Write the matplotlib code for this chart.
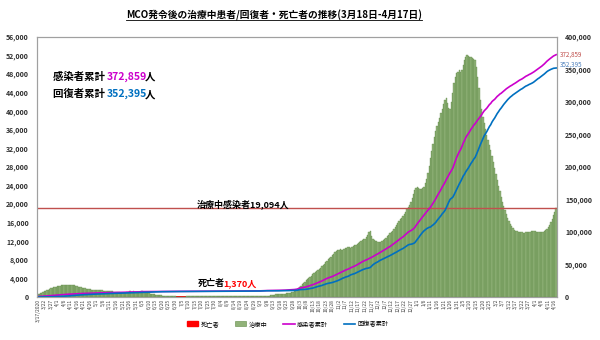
import numpy as np
import pandas as pd
import matplotlib
matplotlib.use('Agg')
import matplotlib.pyplot as plt
from matplotlib.patches import Patch
from matplotlib.lines import Line2D
from matplotlib.ticker import FuncFormatter, MultipleLocator

plt.rcParams['font.family'] = ['Noto Sans CJK JP', 'DejaVu Sans']

START = '2020-03-17'

# 治療中 (active cases), daily from 3/17/2020
active_cases = [
    630, 740, 840, 960, 1100, 1200, 1380, 1450, 1590, 1780, 1840, 1950, 2050, 2130, 2200,
    # Apr
    2290, 2370, 2470, 2510, 2560, 2580, 2590, 2600, 2560, 2540,
    2570, 2560, 2520, 2480, 2400, 2300, 2200, 2150, 2100, 2000,
    1900, 1830, 1800, 1780, 1720, 1650, 1600, 1540, 1520, 1480,
    # May
    1500, 1530, 1560, 1500, 1420, 1380, 1350, 1330, 1310, 1300,
    1280, 1230, 1200, 1150, 1100, 1050, 1000, 970, 950, 920,
    920, 950, 960, 980, 1100, 1250, 1200, 1150, 1200, 1150, 1120,
    # Jun
    1080, 1000, 1050, 1250, 1200, 1150, 1080, 1000, 900, 800,
    700, 650, 600, 540, 500, 450, 400, 380, 340, 300,
    280, 250, 230, 200, 180, 160, 150, 140, 120, 110,
    # Jul
    100, 95, 90, 90, 85, 85, 90, 100, 110, 120,
    130, 140, 150, 160, 170, 170, 165, 160, 160, 170,
    175, 180, 190, 185, 180, 175, 170, 175, 180, 190, 195,
    # Aug
    200, 210, 220, 230, 235, 240, 250, 260, 270, 280,
    300, 310, 320, 300, 290, 280, 270, 260, 250, 240,
    230, 220, 210, 200, 190, 180, 170, 165, 160, 160, 155,
    # Sep
    150, 150, 145, 150, 155, 160, 170, 200, 250, 300,
    360, 420, 480, 520, 560, 600, 620, 640, 660, 680,
    700, 720, 760, 800, 850, 900, 1000, 1100, 1250, 1400,
    # Oct
    1600, 1850, 2100, 2400, 2700, 3000, 3300, 3600, 3900, 4100,
    4300, 4600, 4900, 5100, 5300, 5500, 5800, 6000, 6300, 6600,
    6900, 7200, 7500, 7800, 8100, 8400, 8700, 9000, 9300, 9600, 9900,
    # Nov
    10100, 10200, 10300, 10200, 10100, 10300, 10500, 10600, 10800, 10700,
    10600, 10800, 11000, 11200, 11300, 11400, 11600, 11800, 12000, 12200,
    12400, 12600, 12900, 13400, 14000, 14300, 13200, 12400, 12200, 12100,
    # Dec
    12000, 11900, 11800, 11900, 12100, 12300, 12500, 12800, 13100, 13400,
    13700, 14000, 14300, 14700, 15100, 15500, 15900, 16300, 16700, 17100,
    17500, 17900, 18400, 18900, 19300, 19800, 20500, 21300, 22100, 23000, 23500,
    # Jan 2021
    23700, 23400, 23200, 23300, 23500, 23700, 24500, 25500, 26800, 28200,
    30000, 31500, 33000, 34500, 35800, 36800, 37600, 38600, 39600, 40600,
    41600, 42500, 42800, 41800, 40800, 40500, 42000, 44000, 46000, 47500, 48300,
    # Feb
    48500, 48800, 48500, 49000, 50000, 51000, 51800, 52100, 52000, 51800,
    51600, 51500, 51300, 51000, 49500, 47500, 45000, 42500, 40500, 38800,
    37400, 36200, 35000, 33800, 32700, 31700, 30400, 29000,
    # Mar
    27700, 26400, 25200, 24000, 22800, 21600, 20500, 19500, 18700, 17800,
    17000, 16300, 15700, 15200, 14800, 14500, 14300, 14200, 14100, 14000,
    13900, 13900, 13800, 13800, 13900, 14000, 14000, 14100, 14200, 14300, 14300,
    # Apr
    14200, 14100, 14000, 14000, 13900, 14000, 14100, 14200, 14400, 14700,
    15100, 15600, 16200, 16900, 17600, 18300, 19094,
]

# 感染者累計 (cumulative confirmed)
confirmed_total = [
    673, 790, 900, 1030, 1183, 1306, 1518, 1624, 1796, 2031, 2161, 2320, 2470, 2626, 2766,
    # Apr
    2908, 3116, 3333, 3483, 3662, 3793, 3963, 4119, 4228, 4346,
    4530, 4683, 4817, 4987, 5072, 5182, 5251, 5305, 5389, 5425,
    5482, 5532, 5603, 5691, 5742, 5780, 5820, 5851, 5945, 6002,
    # May
    6071, 6176, 6298, 6353, 6383, 6428, 6467, 6535, 6589, 6656,
    6726, 6742, 6779, 6819, 6855, 6872, 6894, 6941, 6978, 7009,
    7059, 7137, 7185, 7245, 7417, 7604, 7619, 7629, 7732, 7762, 7819,
    # Jun
    7857, 7877, 7970, 8247, 8266, 8303, 8322, 8329, 8336, 8338,
    8369, 8402, 8445, 8453, 8494, 8505, 8515, 8529, 8535, 8556,
    8572, 8587, 8590, 8596, 8600, 8606, 8616, 8634, 8637, 8639,
    # Jul
    8640, 8643, 8648, 8658, 8663, 8668, 8674, 8677, 8683, 8696,
    8704, 8718, 8725, 8729, 8734, 8737, 8755, 8764, 8766, 8779,
    8800, 8815, 8831, 8840, 8858, 8872, 8897, 8904, 8943, 8964, 8976,
    # Aug
    8985, 9002, 9023, 9038, 9063, 9083, 9094, 9104, 9114, 9129,
    9149, 9175, 9200, 9212, 9219, 9235, 9240, 9250, 9257, 9267,
    9274, 9285, 9291, 9296, 9306, 9317, 9334, 9340, 9354, 9360, 9374,
    # Sep
    9391, 9397, 9459, 9559, 9583, 9628, 9810, 9868, 9946, 9969,
    10031, 10052, 10090, 10147, 10167, 10219, 10276, 10320, 10358, 10413,
    10505, 10576, 10687, 10769, 10919, 11034, 11135, 11224, 11484, 11771,
    # Oct
    12088, 12813, 13504, 13993, 14368, 14722, 15096, 15657, 16220, 16880,
    17540, 18129, 18758, 19627, 20498, 21363, 22225, 22957, 23804, 24514,
    25742, 26565, 27805, 28640, 29441, 30090, 30889, 31548, 32505, 33505, 34393,
    # Nov
    35425, 36434, 37348, 38340, 39415, 40209, 41399, 42050, 42872, 43791,
    44966, 45797, 46648, 47515, 48520, 49634, 50856, 51891, 53207, 54311,
    55386, 56260, 57245, 57998, 59157, 60112, 61030, 62232, 63573, 64758,
    # Dec
    65697, 66618, 68020, 69095, 70265, 71470, 72694, 73941, 75314, 76417,
    77624, 79095, 80596, 82096, 83475, 85015, 86618, 88264, 89831, 91195,
    92555, 94385, 96180, 98196, 99917, 101124, 102093, 103366, 104985, 106995, 110167,
    # Jan 2021
    113010, 115451, 118160, 120818, 123629, 125941, 128465, 131108, 133559, 135992,
    138224, 141533, 144518, 147855, 151066, 155095, 158434, 161740, 165371, 169379,
    172549, 176180, 180455, 184148, 187786, 191495, 194632, 198208, 203933, 209661, 214959,
    # Feb
    219173, 223581, 226912, 231483, 236951, 240770, 245552, 248855, 251604, 254988,
    258306, 261015, 264269, 266445, 269369, 272230, 274875, 277565, 280272, 283569,
    286438, 288608, 290543, 293393, 296022, 297881, 300752, 302580,
    # Mar
    304135, 306548, 308750, 310363, 312296, 313538, 315309, 317110, 318816, 320485,
    321925, 323306, 324641, 325669, 327053, 328193, 329467, 330926, 332317, 333645,
    334630, 335667, 337112, 338475, 339836, 340743, 341944, 342945, 343996, 345150, 346465,
    # Apr
    347972, 349610, 351047, 352314, 353724, 355223, 356952, 358751, 360856, 362891,
    364648, 366248, 367854, 369439, 370898, 371861, 372859,
]

# 死亡者 (cumulative deaths)
death_total = [
    2, 2, 3, 3, 4, 10, 14, 16, 21, 23, 26, 27, 35, 37, 43,
    # Apr
    45, 50, 53, 57, 61, 62, 63, 65, 67, 70,
    73, 76, 77, 82, 83, 84, 86, 88, 89, 89,
    93, 95, 96, 98, 99, 100, 100, 100, 102, 103,
    # May
    103, 103, 104, 105, 105, 106, 106, 107, 108, 109,
    109, 109, 111, 112, 112, 113, 113, 114, 114, 114,
    114, 115, 115, 115, 115, 115, 115, 115, 115, 115, 115,
    # Jun
    115, 115, 115, 116, 117, 117, 118, 118, 119, 119,
    120, 121, 121, 121, 121, 121, 121, 121, 121, 121,
    121, 121, 121, 121, 121, 121, 121, 121, 121, 121,
    # Jul
    121, 121, 121, 121, 121, 122, 122, 122, 122, 122,
    122, 122, 122, 122, 122, 123, 123, 123, 123, 123,
    123, 123, 123, 123, 123, 123, 123, 123, 123, 123, 123,
    # Aug
    124, 124, 124, 124, 124, 124, 124, 124, 124, 124,
    125, 125, 125, 125, 125, 125, 125, 125, 125, 125,
    125, 125, 125, 125, 125, 126, 126, 126, 127, 127, 127,
    # Sep
    128, 128, 128, 128, 128, 128, 128, 128, 128, 128,
    128, 128, 128, 128, 128, 130, 130, 130, 130, 130,
    133, 133, 133, 133, 133, 134, 135, 136, 136, 137,
    # Oct
    137, 137, 141, 146, 150, 155, 157, 159, 163, 165,
    167, 170, 176, 178, 182, 187, 190, 193, 199, 204,
    214, 221, 229, 237, 238, 246, 249, 251, 258, 262, 265,
    # Nov
    268, 272, 274, 277, 280, 283, 284, 288, 291, 294,
    297, 300, 302, 305, 309, 311, 313, 316, 319, 322,
    325, 326, 330, 333, 336, 339, 341, 344, 348, 352,
    # Dec
    355, 357, 361, 363, 367, 369, 372, 374, 378, 381,
    385, 388, 391, 394, 396, 400, 403, 406, 410, 413,
    416, 419, 423, 427, 431, 436, 442, 449, 455, 462, 471,
    # Jan 2021
    477, 483, 490, 498, 507, 514, 522, 530, 537, 543,
    551, 555, 561, 569, 578, 586, 594, 605, 618, 626,
    636, 646, 659, 668, 681, 692, 705, 718, 731, 746, 761,
    # Feb
    776, 793, 805, 818, 832, 846, 862, 878, 890, 903,
    916, 928, 940, 952, 962, 975, 988, 1000, 1011, 1025,
    1038, 1051, 1065, 1076, 1088, 1101, 1115, 1130,
    # Mar
    1135, 1141, 1147, 1153, 1157, 1163, 1170, 1175, 1180, 1185,
    1191, 1196, 1200, 1205, 1210, 1215, 1220, 1224, 1228, 1232,
    1236, 1240, 1243, 1246, 1249, 1252, 1255, 1258, 1260, 1263, 1266,
    # Apr
    1270, 1275, 1280, 1285, 1290, 1296, 1302, 1308, 1314, 1321,
    1327, 1333, 1340, 1347, 1354, 1362, 1370,
]

assert len(active_cases) == len(confirmed_total) == len(death_total) == 397

active = np.array(active_cases)
confirmed = np.array(confirmed_total)
deaths = np.array(death_total)
recovered = confirmed - active - deaths   # 回復者累計

dates = pd.date_range(START, periods=len(active), freq='D')
x = np.arange(len(dates))

GREEN = '#91b279'
GREEN_EDGE = '#5f8a46'
RED = '#ff0000'
MAGENTA = '#cc00cc'
BLUE = '#0070c0'
FRAME = '#a0a0a0'

fig = plt.figure(figsize=(6, 3.4), dpi=100)
ax = fig.add_axes([0.062, 0.1265, 0.866, 0.7645])
ax2 = ax.twinx()

ax.bar(x, deaths, width=1.0, color=RED, zorder=2)
ax.bar(x, active, width=1.0, color=GREEN, edgecolor=GREEN_EDGE, linewidth=0.25, zorder=3)
ax.axhline(active[-1], color='#c0504d', lw=1.0, zorder=4)

ax2.plot(x, confirmed, color=MAGENTA, lw=1.2)
ax2.plot(x, recovered, color=BLUE, lw=1.2)

ax.set_xlim(-0.5, len(x) - 0.5)
ax.set_ylim(0, 56000)
ax2.set_ylim(0, 400000)

comma = FuncFormatter(lambda v, p: f'{v:,.0f}')
ax.yaxis.set_major_locator(MultipleLocator(4000))
ax.yaxis.set_major_formatter(comma)
ax2.yaxis.set_major_locator(MultipleLocator(50000))
ax2.yaxis.set_major_formatter(comma)

tick_idx = x[::5]
tick_lab = [f'{d.month}/{d.day}' for d in dates[::5]]
tick_lab[0] = '3/17/2020'
ax.set_xticks(tick_idx)
ax.set_xticklabels(tick_lab, rotation=90)

ax.tick_params(axis='x', labelsize=3.5, length=0, pad=1.5, colors='#404040')
ax.tick_params(axis='y', labelsize=5, length=0, pad=6, colors='#303030')
ax2.tick_params(axis='y', labelsize=5, length=0, pad=6, colors='#303030')
for lab in ax.get_yticklabels() + ax2.get_yticklabels():
    lab.set_fontweight('bold')

for a in (ax, ax2):
    for s in a.spines.values():
        s.set_color(FRAME)
        s.set_linewidth(0.8)

# end values next to the right axis
ax2.annotate(f'{confirmed[-1]:,}', xy=(x[-1], confirmed[-1]), xytext=(3, 0),
             textcoords='offset points', fontsize=4.5, color='#c0504d',
             va='center', annotation_clip=False)
ax2.annotate(f'{recovered[-1]:,}', xy=(x[-1], recovered[-1]), xytext=(3, 2.5),
             textcoords='offset points', fontsize=4.5, color='#4f81bd',
             va='center', annotation_clip=False)

renderer = fig.canvas.get_renderer()
W, H = fig.bbox.width, fig.bbox.height


def rich_text(x0, y0, parts, size):
    # parts: (text, colour, pixels to pull the next piece back)
    for s, c, k in parts:
        t = fig.text(x0, y0, s, color=c, fontsize=size, fontweight='bold',
                     ha='left', va='center_baseline')
        x0 += (t.get_window_extent(renderer).width - k) / W


rich_text(0.088, 0.777, [('感染者累計 ', 'black', 0), (f'{confirmed[-1]:,}', MAGENTA, 3),
                         ('人', 'black', 0)], 7.5)
rich_text(0.088, 0.726, [('回復者累計 ', 'black', 0), (f'{recovered[-1]:,}', BLUE, 3),
                         ('人', 'black', 0)], 7.5)
rich_text(0.328, 0.404, [(f'治療中感染者{active[-1]:,}人', 'black', 0)], 6.5)
rich_text(0.330, 0.168, [('死亡者', 'black', 2), (f'{deaths[-1]:,}人', RED, 0)], 6.5)

# underlined title
title = fig.text(0.457, 0.955, 'MCO発令後の治療中患者/回復者・死亡者の推移(3月18日-4月17日)',
                 ha='center', va='center', fontsize=7.0, fontweight='bold')
bb = title.get_window_extent(renderer)
fig.add_artist(Line2D([bb.x0 / W, bb.x1 / W], [(bb.y0 + 0.5) / H] * 2, color='black', lw=0.6))

handles = [
    Patch(color=RED),
    Patch(facecolor=GREEN, edgecolor=GREEN_EDGE, linewidth=0.4),
    Line2D([], [], color=MAGENTA, lw=1.2),
    Line2D([], [], color=BLUE, lw=1.2),
]
fig.legend(handles, ['死亡者', '治療中', '感染者累計', '回復者累計'],
           loc='center', bbox_to_anchor=(0.48, 0.047), ncol=4, frameon=False,
           fontsize=4.5, handlelength=1.8, handleheight=0.8,
           columnspacing=2.5, handletextpad=0.4)

fig.savefig('out.png', dpi=100, facecolor='white')
